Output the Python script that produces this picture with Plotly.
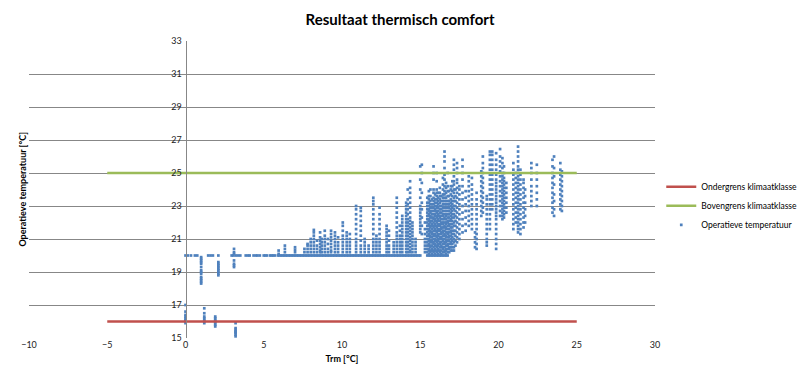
import plotly.graph_objects as go

# ---------------- data ----------------
grens_trm = [-5, 25]
ondergrens = [16, 16]
bovengrens = [25, 25]

# points lying on the 20 degC heating band
band20_trm = [0.0, 0.15, 0.35, 0.6, 0.75, 1.45, 1.6, 1.75, 2.1, 2.95, 3.05, 3.2, 3.35, 3.5,
              3.85, 4.0, 4.1, 4.35, 4.5, 4.6, 4.75,
              5.0, 5.1, 5.2, 5.4, 5.5, 5.6, 5.7, 5.9, 6.0, 6.1, 6.2, 6.3, 6.4, 6.5, 6.6, 6.7,
              6.8, 6.9, 7.0, 7.1, 7.2, 7.3, 7.4, 7.5, 7.6, 7.7, 7.8, 7.9, 8.0, 8.1, 8.2, 8.3,
              8.4, 8.5, 8.6, 8.7, 8.8, 8.9, 9.0, 9.1, 9.2, 9.3, 9.4, 9.5, 9.6, 9.7, 9.8, 9.9,
              10.0, 10.1, 10.2, 10.3, 10.4, 10.5, 10.6, 10.7, 10.8, 10.9, 11.0, 11.1, 11.2,
              11.3, 11.4, 11.5, 11.6, 11.7, 11.8, 11.9, 12.0, 12.1, 12.2, 12.3, 12.4, 12.5,
              12.6, 12.7, 12.8, 12.9, 13.0, 13.1, 13.2, 13.3, 13.4, 13.5, 13.6, 13.7, 13.8,
              13.9, 14.0, 14.1, 14.2, 14.3, 14.4, 14.5, 14.6, 14.7, 14.8, 14.9, 15.0]

koud_trm = [0.0, 1.0, 1.2, 1.9, 2.1, 3.1, 3.2]
koud_temp = [
    [15.9, 16.0, 16.05, 16.1, 16.2, 16.3, 16.4, 16.6, 17.0],
    [18.3, 18.4, 18.5, 18.6, 18.7, 18.9, 19.0, 19.1, 19.3, 19.5, 19.6, 19.7, 19.8, 19.9],
    [15.9, 16.0, 16.1, 16.2, 16.3, 16.5, 16.8],
    [15.7, 15.8, 15.9, 16.0, 16.1, 16.2, 16.3],
    [18.8, 18.9, 19.0, 19.1, 19.2, 19.3, 19.4, 19.5, 19.6],
    [19.3, 19.4, 19.5, 19.7, 20.1, 20.2, 20.4],
    [15.1, 15.2, 15.3, 15.35, 15.4, 15.5, 15.6, 15.9],
]

mild_trm = [5.95, 6.35, 7.0, 7.6, 7.8, 8.0, 8.2, 8.4, 8.6, 8.7, 8.9, 9.1, 9.3, 9.55, 9.75,
            10.05, 10.3, 10.5, 10.9, 11.2, 11.45, 11.7, 12.0, 12.2, 12.4, 12.85, 13.0, 13.3,
            13.5, 13.7, 13.85, 14.1, 14.2, 14.35, 14.5, 14.7]
mild_temp = [
    [20.1, 20.3],
    [20.2, 20.4, 20.6],
    [20.2, 20.35, 20.5],
    [20.2, 20.4],
    [20.2, 20.4, 20.6, 20.7],
    [20.2, 20.4, 20.6, 20.8, 21.0],
    [20.2, 20.4, 20.6, 20.8, 21.0, 21.2, 21.4, 21.55],
    [20.2, 20.4, 20.6, 20.9],
    [20.2, 20.3, 20.5, 20.7, 20.9, 21.1, 21.4],
    [20.2, 20.4, 20.6, 20.8, 21.0],
    [20.2, 20.4, 20.6, 20.8, 21.0, 21.2, 21.5],
    [20.2, 20.4, 20.7, 21.0],
    [20.2, 20.3, 20.5, 20.7, 20.9, 21.1, 21.3, 21.5],
    [20.2, 20.4, 20.6, 20.8, 21.0, 21.2, 21.4],
    [20.2, 20.4, 20.6, 20.8, 21.1],
    [20.2, 20.4, 20.6, 20.8, 21.0, 21.2, 21.5, 21.8, 22.0],
    [20.2, 20.4, 20.6, 20.8, 21.0, 21.2, 21.4],
    [20.2, 20.4, 20.6, 20.8, 21.0, 21.3],
    [20.2, 20.4, 20.6, 20.8, 21.0, 21.3, 21.6, 21.9, 22.2, 22.5, 22.8, 23.0],
    [20.2, 20.4, 20.6, 20.9, 21.2, 21.5, 21.8, 22.1, 22.4, 22.7, 22.9],
    [20.2, 20.4, 20.6, 20.8, 21.0],
    [20.2, 20.4, 20.6],
    [20.2, 20.4, 20.6, 20.8, 21.0, 21.3, 21.6, 21.9, 22.2, 22.5, 22.8, 23.1, 23.3, 23.5],
    [20.2, 20.4, 20.6, 20.8, 21.0, 21.2],
    [20.2, 20.4, 20.6, 20.8, 21.0, 21.3, 21.6, 21.9, 22.2, 22.5, 22.9],
    [20.2, 20.4, 20.6, 20.8, 21.0, 21.2, 21.4, 21.6, 21.8],
    [20.2, 20.4, 20.6, 20.9, 21.2, 21.5],
    [20.2, 20.4, 20.6, 20.8],
    [20.2, 20.4, 20.6, 20.8, 21.0, 21.2, 21.4, 21.7, 22.0, 22.3, 22.6, 22.9, 23.2, 23.5],
    [20.2, 20.4, 20.6, 20.8, 21.0, 21.2, 21.5, 21.8],
    [20.2, 20.4, 20.6, 20.8, 21.0, 21.2, 21.4, 21.6, 21.8, 22.0, 22.2, 22.4],
    [20.2, 20.4, 20.6, 20.8, 21.0, 21.2, 21.4, 21.6, 21.8, 22.0, 22.2, 22.4, 22.6, 22.8,
     23.0, 23.2],
    [20.2, 20.4, 20.6, 20.8, 21.0, 21.2, 21.4, 21.6, 21.8, 22.0, 22.2, 22.5, 22.8, 23.1,
     23.4, 24.0],
    [20.2, 20.3, 20.5, 20.7, 20.9, 21.1, 21.3, 21.5, 21.7, 21.9, 22.1, 22.3, 22.6, 22.9,
     23.2, 23.5, 23.8, 24.1, 24.5],
    [20.2, 20.4, 20.6, 20.8, 21.0, 21.2, 21.4, 21.6, 21.8, 22.0],
    [20.2, 20.4, 20.6, 20.8, 21.0],
]

warm_trm = [15.0, 15.1, 15.3, 15.45, 15.55, 15.65, 15.75, 15.85, 15.95, 16.05, 16.15, 16.25,
            16.35, 16.45, 16.55, 16.65, 16.75, 16.85, 16.95, 17.05, 17.15, 17.25, 17.35,
            17.5, 17.7, 17.9, 18.1, 18.3, 18.5, 18.6, 18.9, 19.0, 19.25, 19.45, 19.6, 19.85,
            20.1, 20.25, 20.35, 20.5, 20.95, 21.1, 21.25, 21.4, 21.6, 21.7, 22.1, 22.45,
            23.45, 23.55, 23.95, 24.05]
warm_temp = [
    [21.4, 21.6, 21.8, 22.0, 22.2, 22.4, 22.6, 22.8, 23.0, 23.5, 24.0, 24.6, 25.4],
    [21.3, 21.8, 22.3, 22.8, 23.2, 23.8, 24.4, 25.0, 25.5],
    [20.2, 20.4, 20.6, 20.8, 21.0, 21.3, 21.6, 22.0],
    [20.0, 20.2, 20.4, 20.6, 20.8, 21.0, 21.2, 21.4, 21.6, 21.8, 22.0, 22.2, 22.4, 22.6,
     22.8, 23.0, 23.2, 23.5],
    [20.0, 20.1, 20.3, 20.4, 20.6, 20.7, 20.9, 21.0, 21.2, 21.3, 21.5, 21.6, 21.8, 21.9,
     22.1, 22.2, 22.4, 22.5, 22.7, 22.8, 23.0, 23.2, 23.4, 23.6, 23.9],
    [20.0, 20.2, 20.3, 20.5, 20.6, 20.8, 20.9, 21.1, 21.2, 21.4, 21.5, 21.7, 21.8, 22.0,
     22.1, 22.3, 22.4, 22.6, 22.7, 22.9, 23.1, 23.3, 23.6, 24.0],
    [20.0, 20.1, 20.3, 20.4, 20.6, 20.8, 20.9, 21.1, 21.3, 21.4, 21.6, 21.8, 21.9, 22.1,
     22.3, 22.5, 22.7, 22.9, 23.1, 23.4],
    [20.0, 20.2, 20.3, 20.5, 20.7, 20.8, 21.0, 21.2, 21.3, 21.5, 21.7, 21.8, 22.0, 22.2,
     22.3, 22.5, 22.7, 22.9, 23.1, 23.3, 23.5, 23.8, 24.0, 24.6, 25.0, 25.4],
    [20.0, 20.1, 20.3, 20.4, 20.6, 20.7, 20.9, 21.0, 21.2, 21.3, 21.5, 21.6, 21.8, 21.9,
     22.1, 22.2, 22.4, 22.5, 22.7, 22.8, 23.0, 23.2, 23.4, 23.7],
    [20.0, 20.2, 20.3, 20.5, 20.6, 20.8, 20.9, 21.1, 21.2, 21.4, 21.5, 21.7, 21.8, 22.0,
     22.1, 22.3, 22.4, 22.6, 22.7, 22.9, 23.0, 23.2, 23.4, 23.6, 23.8, 24.0, 24.5, 25.0],
    [20.0, 20.1, 20.3, 20.4, 20.6, 20.7, 20.9, 21.0, 21.2, 21.3, 21.5, 21.6, 21.8, 21.9,
     22.1, 22.2, 22.4, 22.5, 22.7, 22.9, 23.1, 23.3, 23.5, 23.8],
    [20.0, 20.2, 20.3, 20.5, 20.7, 20.8, 21.0, 21.1, 21.3, 21.5, 21.6, 21.8, 21.9, 22.1,
     22.3, 22.4, 22.6, 22.8, 23.0, 23.2, 23.4, 23.6, 23.8, 24.1],
    [20.0, 20.1, 20.3, 20.5, 20.6, 20.8, 21.0, 21.1, 21.3, 21.4, 21.6, 21.7, 21.9, 22.0,
     22.2, 22.4, 22.6, 22.8, 23.0, 23.3, 23.6],
    [20.0, 20.2, 20.4, 20.5, 20.7, 20.9, 21.0, 21.2, 21.4, 21.5, 21.7, 21.9, 22.0, 22.2,
     22.4, 22.5, 22.7, 22.9, 23.1, 23.3, 23.5, 23.7, 24.0, 24.3, 24.7],
    [20.0, 20.2, 20.3, 20.5, 20.7, 20.8, 21.0, 21.2, 21.3, 21.5, 21.7, 21.8, 22.0, 22.2,
     22.3, 22.5, 22.7, 22.9, 23.1, 23.3, 23.5, 23.7, 23.9, 24.2, 24.6, 24.9, 25.3, 25.7,
     26.0, 26.3],
    [20.0, 20.1, 20.3, 20.4, 20.6, 20.8, 20.9, 21.1, 21.2, 21.4, 21.6, 21.7, 21.9, 22.0,
     22.2, 22.4, 22.5, 22.7, 22.9, 23.1, 23.3, 23.5, 23.8, 24.1, 24.4],
    [20.0, 20.2, 20.4, 20.6, 20.7, 20.9, 21.1, 21.3, 21.4, 21.6, 21.8, 22.0, 22.1, 22.3,
     22.5, 22.7, 22.9, 23.1, 23.3, 23.6, 23.9, 24.2, 25.0],
    [20.2, 20.4, 20.5, 20.7, 20.9, 21.1, 21.2, 21.4, 21.6, 21.8, 21.9, 22.1, 22.3, 22.5,
     22.7, 22.9, 23.1, 23.3, 23.6, 23.9],
    [20.3, 20.5, 20.7, 20.8, 21.0, 21.2, 21.4, 21.5, 21.7, 21.9, 22.1, 22.2, 22.4, 22.6,
     22.8, 23.0, 23.2, 23.4, 23.7, 24.0, 24.2],
    [20.3, 20.5, 20.7, 20.9, 21.1, 21.3, 21.5, 21.7, 21.9, 22.1, 22.3, 22.5, 22.7, 22.9,
     23.1, 23.3, 23.6, 23.9, 24.2, 24.5],
    [20.3, 20.5, 20.8, 21.0, 21.3, 21.5, 21.8, 22.0, 22.3, 22.5, 22.8, 23.0, 23.3, 23.5,
     23.8, 24.0, 24.3, 24.5, 24.8, 25.2, 25.5, 25.8],
    [20.6, 20.9, 21.2, 21.5, 21.8, 22.1, 22.4, 22.7, 23.0, 23.3, 23.6, 24.0],
    [20.8, 21.1, 21.4, 21.7, 22.0, 22.3, 22.6, 22.9, 23.2, 23.5, 23.8, 24.1, 24.4, 24.6,
     25.0, 25.3, 25.6],
    [21.0, 21.3, 21.6, 21.9, 22.2, 22.5, 22.8, 23.1, 23.4, 23.7, 24.0, 24.2],
    [21.4, 21.8, 22.2, 22.6, 23.0, 23.4, 23.8, 24.2, 24.6, 25.0, 25.4, 25.8],
    [21.5, 21.9, 22.3, 22.7, 23.1, 23.5, 23.9],
    [21.8, 22.1, 22.4, 22.7, 23.0, 23.3, 23.6, 23.9, 24.2, 24.5, 24.8],
    [21.6, 21.9, 22.2, 22.5, 22.8, 23.1, 23.4, 23.7, 24.0, 24.3, 24.7],
    [20.5, 20.8, 21.1, 21.4],
    [20.4, 20.7, 21.0, 21.3, 21.6, 21.9, 22.2, 22.5, 22.8, 23.1, 23.4, 23.8],
    [22.4, 22.7, 23.0, 23.3, 23.6, 23.9, 24.2, 24.5, 24.8, 25.1],
    [22.6, 22.9, 23.2, 23.5, 23.8, 24.1, 24.4, 24.7, 25.0, 25.3, 25.6, 26.0],
    [20.6, 20.8, 21.0, 21.3, 21.6, 21.9, 22.2, 22.5, 22.8, 23.1, 23.4, 23.6],
    [21.6, 21.9, 22.2, 22.5, 22.8, 23.1, 23.4, 23.7, 24.0, 24.3, 24.6, 24.9, 25.2, 25.5,
     25.8, 26.1, 26.3],
    [22.8, 23.1, 23.4, 23.7, 24.0, 24.3, 24.6, 24.9, 25.2, 25.5, 25.8, 26.1, 26.3],
    [20.4, 20.7, 21.0, 21.3, 21.6, 21.9, 22.2, 22.4, 22.6, 22.8, 23.0, 23.2, 23.4, 23.6,
     23.8, 24.0, 24.2, 24.4, 24.6, 24.9, 25.2, 25.5, 25.8, 26.2],
    [22.4, 22.7, 23.0, 23.3, 23.6, 23.9, 24.2, 24.5, 24.8, 25.1, 25.4, 25.7, 26.0, 26.45],
    [22.2, 22.4, 22.6, 22.8, 23.0, 23.2, 23.4, 23.6, 23.8, 24.0, 24.2, 24.4, 24.6, 24.8,
     25.0, 25.3, 25.6, 25.9],
    [22.3, 22.5, 22.7, 22.9, 23.1, 23.3, 23.5, 23.7, 23.9, 24.1, 24.3, 24.5, 24.7, 25.0,
     25.4],
    [22.6, 22.9, 23.2, 23.5, 23.8, 24.1, 24.4],
    [21.6, 21.9, 22.2, 22.5, 22.8, 23.1, 23.4, 23.7, 24.0, 24.3, 24.6, 24.9, 25.2, 25.6],
    [22.0, 22.3, 22.6, 22.9, 23.2, 23.5, 23.8, 24.1, 24.4, 24.7, 25.0],
    [21.4, 21.6, 21.8, 22.0, 22.2, 22.4, 22.6, 22.8, 23.0, 23.2, 23.4, 23.6, 23.8, 24.0,
     24.2, 24.4, 24.6, 24.8, 25.0, 25.2, 25.4, 25.7, 26.0, 26.3, 26.6],
    [21.3, 21.6, 21.9, 22.2, 22.5, 22.8, 23.1, 23.4, 23.7, 24.0, 24.3, 24.6, 24.9, 25.2],
    [21.7, 22.0, 22.3, 22.6, 22.9, 23.2, 23.5, 23.8, 24.1, 24.4, 24.6],
    [22.0, 22.4, 22.8, 23.2, 23.6, 24.0],
    [23.0, 23.3, 23.6, 23.9, 24.2, 24.6, 25.0, 25.3, 25.6],
    [23.0, 23.4, 23.8, 24.2, 24.6, 25.0, 25.5],
    [22.6, 22.9, 23.2, 23.5, 23.8, 24.1, 24.4, 24.7, 25.0, 25.4, 25.8],
    [22.4, 22.8, 23.3, 23.7, 24.3, 24.8, 25.3, 26.0],
    [22.8, 23.1, 23.4, 23.7, 24.0, 24.3, 24.6, 24.9, 25.2, 25.6],
    [22.7, 23.0, 23.3, 23.6, 23.9, 24.2, 24.5, 24.8, 25.1],
]

x_ticks = [-10, -5, 0, 5, 10, 15, 20, 25, 30]
y_ticks = [15, 17, 19, 21, 23, 25, 27, 29, 31, 33]

# flatten columns into the scatter series
trm_pts = list(band20_trm)
top_pts = [20.0] * len(band20_trm)
for xs, ys in ((koud_trm, koud_temp), (mild_trm, mild_temp), (warm_trm, warm_temp)):
    for xv, col in zip(xs, ys):
        trm_pts.extend([xv] * len(col))
        top_pts.extend(col)

FONT = "Lato, Liberation Sans, sans-serif"
GRID = "#878787"

fig = go.Figure()
fig.add_trace(go.Scatter(
    x=trm_pts, y=top_pts, mode="markers", name="Operatieve temperatuur",
    marker=dict(color="#4F81BD", size=2.7, symbol="square", line=dict(width=0)),
    legendrank=3,
))
fig.add_trace(go.Scatter(
    x=grens_trm, y=ondergrens, mode="lines", name="Ondergrens klimaatklasse",
    line=dict(color="#C0504D", width=2.5), legendrank=1,
))
fig.add_trace(go.Scatter(
    x=grens_trm, y=bovengrens, mode="lines", name="Bovengrens klimaatklasse",
    line=dict(color="#9BBB59", width=2.5), legendrank=2,
))

fig.update_layout(
    width=805, height=375,
    margin=dict(l=29, r=150, t=41, b=37, autoexpand=False),
    paper_bgcolor="white", plot_bgcolor="white",
    font=dict(family=FONT, size=9, color="#000000"),
    title=dict(text="<b>Resultaat thermisch comfort</b>", x=0.497, xanchor="center",
               y=0.947, yanchor="middle", font=dict(size=15, family=FONT, color="#000000")),
    showlegend=True,
    legend=dict(x=1.01, y=0.445, xanchor="left", yanchor="middle",
                font=dict(size=8.5, family=FONT), tracegroupgap=0,
                bgcolor="rgba(0,0,0,0)", itemwidth=30),
    xaxis=dict(range=[-10, 30], tickvals=x_ticks, showgrid=False, zeroline=False,
               showline=False, ticks="", tickfont=dict(size=9, color="#222"),
               title=dict(text="<b>Trm [°C]</b>", font=dict(size=9), standoff=6),
               fixedrange=True, automargin=False),
    yaxis=dict(range=[15, 33], tickvals=y_ticks, showgrid=True, gridcolor=GRID,
               gridwidth=1, zeroline=False, showline=True, linecolor=GRID, linewidth=1,
               anchor="free", position=0.25, ticks="", ticklabelstandoff=2,
               tickfont=dict(size=9, color="#222"), fixedrange=True, automargin=False),
    annotations=[dict(text="<b>Operatieve temperatuur [°C]</b>", xref="paper",
                      yref="paper", x=-0.011, y=0.5, textangle=-90, showarrow=False,
                      font=dict(size=9, family=FONT, color="#000"),
                      xanchor="center", yanchor="middle")],
)

fig.write_html(
    "out.html",
    config={"displayModeBar": False},
    post_script="document.body.style.margin='0';document.body.style.padding='0';",
)
